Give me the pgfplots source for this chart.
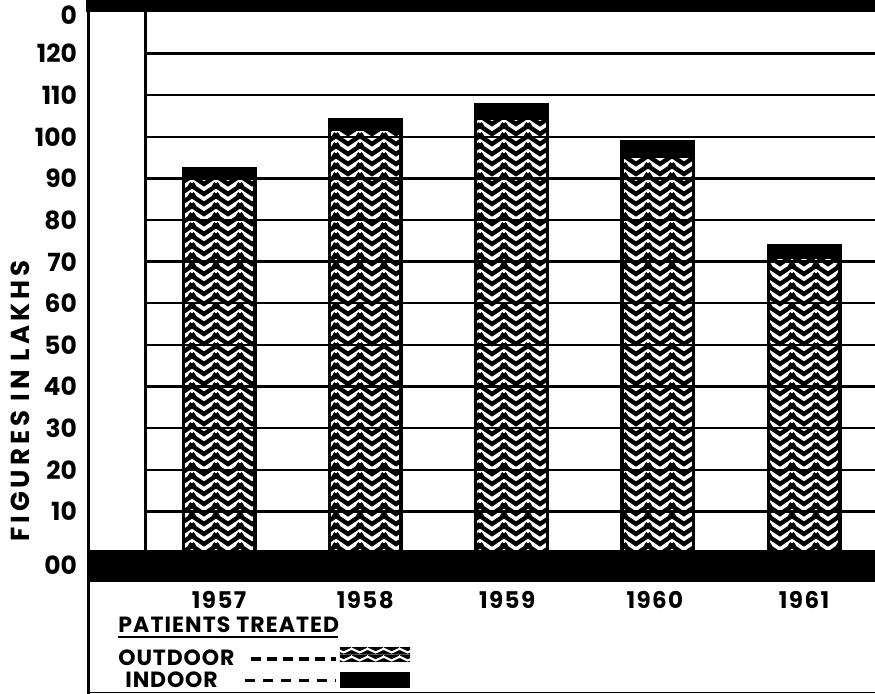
\documentclass[border=0pt]{standalone}
\usepackage{fontspec}
\setmainfont{Poppins}
\usepackage{pgfplots}
\pgfplotsset{compat=1.18}
\usetikzlibrary{patterns}

\pgfdeclarepatternformonly{zigzag}{\pgfpoint{-2pt}{-1.8pt}}{\pgfpoint{14pt}{6pt}}{\pgfpoint{12pt}{5pt}}{%
  \pgfsetlinewidth{2.2pt}%
  \pgfsetmiterjoin
  \pgfpathmoveto{\pgfpoint{-1.5pt}{5pt}}%
  \pgfpathlineto{\pgfpoint{6pt}{0pt}}%
  \pgfpathlineto{\pgfpoint{13.5pt}{5pt}}%
  \pgfusepath{stroke}%
}
\pgfdeclarepatterninherentlycolored{zigzagwhite}{\pgfpoint{0pt}{0pt}}{\pgfpoint{8pt}{4pt}}{\pgfpoint{8pt}{4pt}}{%
  \pgfsetfillcolor{black}%
  \pgfpathrectangle{\pgfpoint{0pt}{0pt}}{\pgfpoint{8pt}{4pt}}%
  \pgfusepath{fill}%
  \pgfsetstrokecolor{white}%
  \pgfsetlinewidth{1.1pt}%
  \pgfpathmoveto{\pgfpoint{-1pt}{3.2pt}}%
  \pgfpathlineto{\pgfpoint{4pt}{0.8pt}}%
  \pgfpathlineto{\pgfpoint{9pt}{3.2pt}}%
  \pgfusepath{stroke}%
}

\pgfplotstableread{
x outdoor indoor
0 90.0  2.3
1 101.7 2.4
2 104.5 3.2
3 95.3  3.5
4 71.0  2.9
}\datatable

\begin{document}
\begin{tikzpicture}
\begin{axis}[
  scale only axis, width=393.5pt, height=347pt,
  xmin=-0.896, xmax=4.485, ymin=-33.9, ymax=132.9,
  axis line style={draw=none},
  xtick=\empty,
  ytick={-2.9,10,20,30,40,50,60,70,80,90,100,110,120,129.3},
  yticklabels={00,10,20,30,40,50,60,70,80,90,100,110,120,0},
  major tick length=0pt,
  yticklabel style={font=\bfseries\fontsize{12.5}{12.5}\selectfont, anchor=east, xshift=-2pt},
  ybar stacked, bar width=0.49,
  clip=false,
]
% grid lines
\pgfplotsinvokeforeach{10,20,30,40,50,60,70,80,90,100,110,120}{
  \draw[line width=1.2pt] (axis cs:-0.506,#1) -- (axis cs:4.485,#1);
}
\draw[line width=1.5pt] (axis cs:-0.506,0) -- (axis cs:-0.506,130.5);

\addplot[draw=black, line width=1.7pt, pattern=zigzag, pattern color=black] table[x=x, y=outdoor] {\datatable};
\addplot[draw=black, line width=1.7pt, fill=black] table[x=x, y=indoor] {\datatable};

% bands and frame
\fill[black] (axis cs:-0.91,130) rectangle (axis cs:4.485,132.9);
\fill[black] (axis cs:-0.896,0.6) rectangle (axis cs:4.485,-7);
\draw[line width=1.6pt] (axis cs:-0.89,-33.9) -- (axis cs:-0.89,132.9);
\draw[line width=0.6pt] (axis cs:-0.89,-33.5) -- (axis cs:4.485,-33.5);

% years
\node[font=\bfseries\fontsize{11.5}{11.5}\selectfont\addfontfeatures{LetterSpace=6}] at (axis cs:0,-11.3) {1957};
\node[font=\bfseries\fontsize{11.5}{11.5}\selectfont\addfontfeatures{LetterSpace=6}] at (axis cs:1,-11.3) {1958};
\node[font=\bfseries\fontsize{11.5}{11.5}\selectfont\addfontfeatures{LetterSpace=6}] at (axis cs:1.97,-11.3) {1959};
\node[font=\bfseries\fontsize{11.5}{11.5}\selectfont\addfontfeatures{LetterSpace=6}] at (axis cs:2.98,-11.3) {1960};
\node[font=\bfseries\fontsize{11.5}{11.5}\selectfont\addfontfeatures{LetterSpace=6}] at (axis cs:4,-11.3) {1961};

% y label
\node[rotate=90, font=\bfseries\fontsize{13}{13}\selectfont\addfontfeatures{LetterSpace=15}] at ([xshift=-34pt]axis cs:-0.896,36.5) {FIGURES IN LAKHS};

% legend
\node[anchor=west, inner sep=0pt, font=\bfseries\fontsize{11}{11}\selectfont\addfontfeatures{LetterSpace=5}] at (axis cs:-0.691,-17.3) {PATIENTS TREATED};
\draw[line width=0.8pt] (axis cs:-0.691,-20.2) -- (axis cs:0.813,-20.2);
\node[anchor=west, inner sep=0pt, text height=7.6pt, text depth=0pt, font=\bfseries\fontsize{11}{11}\selectfont\addfontfeatures{LetterSpace=4}] at (axis cs:-0.691,-25.3) {OUTDOOR};
\draw[line width=1.6pt, dash pattern=on 5pt off 3pt] (axis cs:0.22,-25.5) -- (axis cs:0.80,-25.5);
\fill[pattern=zigzagwhite] (axis cs:0.827,-22.8) rectangle (axis cs:1.306,-26.2);
\node[anchor=west, inner sep=0pt, text height=7.6pt, text depth=0pt, font=\bfseries\fontsize{11}{11}\selectfont\addfontfeatures{LetterSpace=4}] at (axis cs:-0.643,-30.6) {INDOOR};
\draw[line width=1.6pt, dash pattern=on 5pt off 4pt] (axis cs:0.18,-30.6) -- (axis cs:0.80,-30.6);
\fill[black] (axis cs:0.827,-28.6) rectangle (axis cs:1.306,-32.5);
\end{axis}
\pgfresetboundingbox
\path (current axis.south west) ++(-44pt,0) rectangle (current axis.north east);
\end{tikzpicture}
\end{document}
